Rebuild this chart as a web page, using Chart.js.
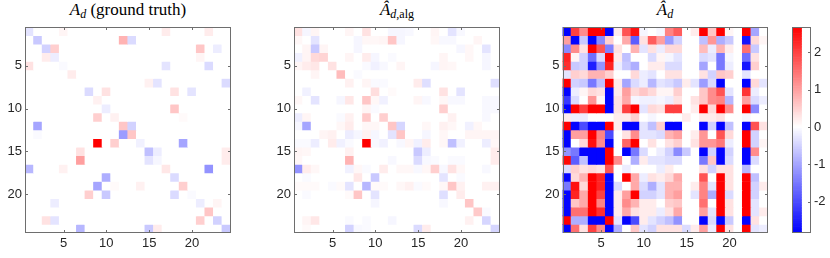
<!DOCTYPE html>
<html><head><meta charset="utf-8">
<script src="https://cdn.jsdelivr.net/npm/chart.js@4.4.1/dist/chart.umd.min.js"></script>
<style>
body{margin:0;background:#fff;width:830px;height:258px;overflow:hidden;position:relative}
canvas{position:absolute;top:0}
.title{position:absolute;top:0px;font-family:"Liberation Serif","DejaVu Serif",serif;font-size:17px;color:#000;text-align:center;width:206px;line-height:20px;white-space:nowrap}
.title sub{font-size:12px;vertical-align:-3px;line-height:0}
</style></head><body>
<div class="title" style="left:25px"><i>A</i><sub><i>d</i></sub> (ground truth)</div>
<div class="title" style="left:294px"><i>Â</i><sub><i>d</i>,alg</sub></div>
<div class="title" style="left:562px"><i>Â</i><sub><i>d</i></sub></div>
<canvas id="c1" width="240" height="258" style="left:0px"></canvas>
<canvas id="c2" width="240" height="258" style="left:269px"></canvas>
<canvas id="c3" width="240" height="258" style="left:537px"></canvas>
<canvas id="cb" width="50" height="258" style="left:780px"></canvas>
<script>
const columns = [1,2,3,4,5,6,7,8,9,10,11,12,13,14,15,16,17,18,19,20,21,22,23,24];
const rows = [1,2,3,4,5,6,7,8,9,10,11,12,13,14,15,16,17,18,19,20,21,22,23,24];
const axisTicks = [5, 10, 15, 20];
const colorbarTicks = [-2, -1, 0, 1, 2];
const colorMin = -2.83, colorMax = 2.67;

// ground truth: [row, col, value]
const groundTruthCells = [
[1,1,-0.3],[1,5,0.1],[1,17,0.2],[1,22,0.2],
[2,2,-0.6],[2,12,0.8],[2,13,-0.4],
[3,3,-0.5],[3,4,0.5],[3,21,0.6],[3,23,-0.2],
[4,3,0.2],[4,4,-0.2],[4,21,0.1],
[5,1,0.3],[5,5,-0.05],[5,17,-0.3],[5,22,-0.4],
[6,6,0.2],
[7,15,0.15],[7,16,-0.3],[7,24,-0.4],
[8,8,-0.4],[8,10,0.3],[8,18,0.3],[8,20,-0.3],
[9,9,0.15],
[10,10,-0.2],[10,18,0.6],
[11,9,0.5],[11,11,0.15],[11,19,0.05],
[12,2,-1.0],[12,12,0.6],[12,13,-0.5],
[13,2,-0.05],[13,12,-1.1],[13,13,0.6],
[14,9,2.7],[14,11,0.5],[14,14,-0.15],[14,19,-1.0],
[15,7,0.3],[15,15,-0.7],[15,16,-0.2],[15,24,0.2],
[16,7,1.0],[16,15,-0.3],[16,16,-0.1],[16,24,0.2],
[17,1,-0.8],[17,5,0.15],[17,17,0.25],[17,22,-1.2],
[18,10,-0.9],[18,18,-0.4],
[19,9,-1.0],[19,11,0.05],[19,14,0.15],[19,19,0.5],
[20,8,0.5],[20,10,-0.6],[20,18,-0.4],[20,20,-0.05],
[21,4,-0.2],[21,21,-0.2],[21,23,0.1],
[22,22,0.6],
[23,3,0.3],[23,4,-0.3],[23,21,0.5],[23,23,-0.5],
[24,7,-0.8],[24,15,-0.6],[24,16,0.2],[24,24,-0.6]
];

// algorithm estimate: [row, col, value]
const algCells = [
[1,1,0.3],[1,2,-0.1],[1,3,0.1],[1,7,0.1],[1,9,0.3],[1,12,-0.1],[1,13,-0.1],[1,14,-0.08],[1,17,0.1],[1,19,-0.3],[1,20,-0.08],
[2,1,0.08],[2,3,-0.3],[2,8,-0.1],[2,9,0.08],[2,10,0.08],[2,11,0.1],[2,12,0.6],[2,13,-0.1],[2,17,0.08],[2,18,-0.08],[2,19,-0.08],[2,22,0.1],
[3,2,0.1],[3,3,-0.6],[3,4,0.1],[3,8,-0.1],[3,20,-0.1],[3,21,0.08],[3,23,-0.3],
[4,1,-0.15],[4,2,0.1],[4,3,0.4],[4,4,0.45],[4,7,0.1],[4,9,0.2],[4,10,-0.1],[4,12,-0.05],[4,18,0.1],[4,21,0.08],[4,23,-0.1],
[5,1,0.1],[5,2,0.2],[5,3,0.25],[5,5,0.3],[5,9,-0.05],[5,10,-0.15],[5,11,-0.08],[5,13,0.1],[5,17,-0.1],[5,18,0.1],[5,19,0.08],[5,23,-0.1],
[6,3,0.1],[6,6,0.7],[6,8,-0.05],
[7,7,0.15],[7,9,0.1],[7,10,-0.05],[7,11,-0.05],[7,15,0.2],[7,16,-0.35],[7,24,-0.35],
[8,2,-0.15],[8,10,0.35],[8,12,0.05],[8,18,0.3],[8,20,-0.3],
[9,1,0.08],[9,3,-0.3],[9,6,-0.1],[9,7,0.25],[9,9,0.6],[9,10,0.08],[9,11,-0.15],[9,15,0.1],[9,16,-0.08],[9,18,0.08],[9,19,-0.08],[9,20,-0.08],[9,23,-0.08],[9,24,-0.08],
[10,9,0.1],[10,10,-0.05],[10,18,0.5],[10,23,-0.08],[10,24,-0.08],
[11,1,-0.2],[11,2,0.1],[11,6,-0.05],[11,7,0.15],[11,9,0.55],[11,11,0.5],[11,19,0.15],[11,23,-0.08],
[12,1,-0.1],[12,2,-1.0],[12,6,0.08],[12,7,0.2],[12,9,0.08],[12,10,0.08],[12,12,0.6],[12,13,-0.45],[12,16,0.08],[12,18,0.15],[12,19,0.08],[12,21,-0.15],[12,22,0.08],
[13,4,0.1],[13,5,0.15],[13,7,-0.2],[13,8,-0.1],[13,9,0.15],[13,10,-0.1],[13,12,-0.3],[13,13,0.6],[13,16,-0.1],[13,18,0.08],[13,21,0.1],[13,22,0.1],[13,23,0.1],[13,24,0.1],
[14,1,-0.05],[14,2,-0.05],[14,3,-0.2],[14,5,0.2],[14,6,-0.15],[14,7,-0.05],[14,9,2.7],[14,10,-0.08],[14,11,-0.15],[14,13,-0.08],[14,14,0.1],[14,15,-0.15],[14,16,0.2],[14,18,0.08],[14,19,-0.7],[14,20,-0.15],[14,23,-0.2],[14,24,0.08],
[15,1,0.1],[15,2,0.08],[15,7,0.15],[15,15,-0.6],[15,16,-0.2],[15,24,0.2],
[16,1,0.08],[16,7,0.8],[16,12,-0.08],[16,15,-0.4],[16,16,-0.08],[16,17,-0.05],[16,19,-0.05],[16,20,-0.05],[16,24,0.2],
[17,1,-1.2],[17,2,0.2],[17,3,0.08],[17,7,-0.15],[17,8,0.08],[17,9,-0.05],[17,11,0.2],[17,13,0.08],[17,14,0.08],[17,15,-0.08],[17,16,0.08],[17,17,0.5],[17,18,-0.08],[17,19,0.3],[17,20,0.08],[17,23,-0.08],
[18,2,-0.05],[18,8,0.25],[18,10,-0.6],[18,18,-0.3],[18,20,-0.05],
[19,1,0.05],[19,2,0.05],[19,3,0.05],[19,5,-0.05],[19,6,0.05],[19,7,-0.3],[19,9,-0.8],[19,10,0.05],[19,11,0.05],[19,13,0.08],[19,14,0.15],[19,15,-0.05],[19,16,0.05],[19,18,0.08],[19,19,0.6],[19,20,0.15],[19,23,0.15],[19,24,0.15],
[20,2,-0.05],[20,7,0.05],[20,8,0.6],[20,10,-0.3],[20,18,-0.35],[20,20,0.2],
[21,10,-0.1],[21,18,-0.08],[21,21,0.6],
[22,22,0.55],[22,23,-0.05],
[23,2,0.1],[23,3,0.25],[23,7,-0.05],[23,9,-0.05],[23,12,-0.1],[23,21,0.15],[23,23,-0.45],
[24,2,0.05],[24,7,-0.5],[24,8,-0.08],[24,9,-0.05],[24,15,-0.4],[24,16,0.2],[24,24,-0.45]
];

// full estimate, row by row
const estimate = [
[-2.8,2.0,1.2,2.8,2.8,-2.8,0.2,1.8,2.5,-0.1,0,-0.1,1.3,1.7,0,0.2,2.8,0.6,2.8,0.1,0,2.8,-1.0,0],
[1.0,-2.8,-0.6,-2.8,-1.3,0.5,0,0.9,-1.8,0.3,1.7,1.0,-1.1,-0.5,0,0,-0.7,1.1,-0.9,-0.6,0,-2.6,0.4,0.1],
[-1.3,1.2,0.3,2.8,1.8,-1.4,0.3,0,0.8,-0.3,0.3,-0.2,0.4,0.4,0,0,0.7,-0.2,0.8,0.2,0,1.5,-0.6,0],
[2.3,0.1,-0.5,-1.6,-0.4,2.8,0.2,-0.7,0,0,-0.4,0.1,-0.1,-0.3,0,0,-0.4,-0.3,-1.5,-0.1,0,-1.6,0.3,0],
[2.2,-0.6,-0.5,-2.5,-1.2,2.3,-0.2,-0.6,-0.9,0,0.2,0.2,-0.4,-0.4,0,0,-1.0,0,-1.5,-0.2,0,-2.6,0.5,0],
[-0.3,0.5,0.4,0.8,0.8,0.5,0,0,0.4,-0.2,-0.3,0,0.3,0.3,0,0,0.3,-0.5,0.6,0.5,0,-0.3,0,0],
[2.8,-0.5,-0.6,-1.5,-0.7,2.8,0.2,-1.0,-0.4,-0.2,-0.8,-0.3,-0.4,-0.6,0.2,-0.3,-1.1,-0.4,-2.8,0,0,-2.8,0.4,-0.3],
[-2.8,-0.2,0.1,0.4,0.3,-2.8,0.2,1.0,0.4,0.6,0.4,0.1,0.1,0.5,0,0,0.6,1.2,1.8,-0.3,0,2.1,-0.2,0],
[-2.2,-0.4,0,1.1,0.1,-2.8,0.3,0.9,-0.1,-0.15,-0.15,-0.1,-0.2,0.3,0,0.3,0.6,1.2,1.3,-0.8,0,1.0,-0.4,-0.2],
[-2.8,2.8,2.0,2.8,2.8,-2.8,0.3,2.0,2.8,-0.3,0.4,0.3,2.0,2.0,0,0.2,2.8,0.4,2.8,1.2,0,2.8,-1.3,0],
[0.2,-0.2,-0.2,0,0,0,0.2,0.2,0.5,0,-0.1,0,0,0,0.2,0,0.2,0.2,0.3,0,0,-0.1,0,0],
[2.8,-2.8,-2.0,-2.8,-2.8,2.8,0.2,-2.8,-2.8,-0.3,-0.7,0.5,-2.8,-2.8,0,0,-2.8,-0.5,-2.8,-0.7,0,-2.8,1.8,0.3],
[-2.8,1.0,1.0,2.8,1.3,-2.0,0,0.3,1.2,-0.3,-0.3,-0.4,0.8,1.0,0,0.2,1.1,0,1.8,0.4,0,2.8,-0.5,0],
[-2.8,0,0.4,2.5,1.2,-2.8,0,1.6,2.8,0,0.3,0,0.3,0.5,0,0.3,1.1,1.1,1.4,-0.2,0,2.8,-0.5,0.1],
[-1.2,-1.5,-2.8,-2.8,-2.8,2.8,0,-2.8,-1.5,-0.4,0,-0.2,-0.5,-1.3,-0.6,0,-2.8,-0.5,-2.8,-0.5,0,-2.8,1.2,0],
[2.6,-1.8,-0.7,-2.8,-2.8,2.8,1.2,0,-0.9,0.2,-0.3,-0.3,-0.4,-0.4,0,0,-1.5,0.6,-2.8,-0.4,0,-2.8,-0.4,0],
[-0.4,0.5,0.3,0.4,0.3,1.8,0,-0.2,0,0,0,-0.2,0.2,0,0,0,0.3,-0.5,0.3,0.3,0,-0.8,0,0],
[-2.8,0.4,0.8,2.8,2.3,-2.8,0,2.8,0.9,-0.2,0.3,0.2,0.4,0.9,0,0,1.8,0,2.8,0.3,0,2.8,-0.7,0],
[-1.5,2.5,0.4,2.8,2.3,-2.8,-0.4,0,0.9,-0.4,-0.9,-0.3,0.8,0.8,0,0.2,1.3,-0.3,2.8,0.3,0,2.8,-0.5,0.2],
[-2.8,2.3,0.9,2.8,2.0,-2.8,0.2,1.0,2.8,-0.5,-0.5,-0.3,0.8,1.0,0,-0.3,1.3,-0.9,2.8,-0.4,0,2.8,-0.5,0],
[-2.8,0.6,0.9,2.8,1.3,-2.8,0.2,1.2,0.8,0.2,0.2,0,0.5,0.6,0,0,1.5,0,2.8,0.3,0,2.8,-0.3,0],
[-2.8,1.5,1.5,2.8,2.2,-2.8,0.2,0.9,0.3,0.2,0.2,-0.2,0.3,0.9,0,0,1.0,-0.3,2.8,0.3,0,2.8,-0.3,0.2],
[2.8,-0.9,-0.9,-2.8,-2.8,2.8,-0.3,-2.8,-2.0,0.2,-0.3,-0.5,-0.7,-1.2,0,0,-2.8,-0.4,-2.8,-0.6,0,-2.8,0.3,0],
[-2.8,1.5,0.3,2.0,1.2,-2.8,-0.9,0,0.6,-0.3,-0.5,0.3,0.3,0.3,-0.4,0.2,1.0,-0.2,2.8,0.3,0,2.8,-0.3,-0.2]
];

function toMatrix(cells) {
  const m = rows.map(() => columns.map(() => 0));
  cells.forEach(([r, c, v]) => { m[r - 1][c - 1] = v; });
  return m;
}

function colorFor(v) {
  if (v >= 0) {
    const t = Math.min(v / colorMax, 1);
    const g = Math.round(255 * (1 - t));
    return `rgb(255,${g},${g})`;
  }
  const t = Math.min(v / colorMin, 1);
  const g = Math.round(255 * (1 - t));
  return `rgb(${g},${g},255)`;
}

Chart.defaults.font.family = '"Liberation Sans", Arial, Helvetica, sans-serif';
Chart.defaults.font.size = 13;
Chart.defaults.color = '#262626';

const FRAME = '#6e6e6e';
const TL = 2.5;

const framePlugin = {
  id: 'frame',
  afterDraw(chart, args, opts) {
    const { ctx, chartArea: a } = chart;
    ctx.save();
    ctx.strokeStyle = FRAME;
    ctx.lineWidth = 1;
    const L = Math.round(a.left) + 0.5, R = Math.round(a.right) - 0.5;
    const T = Math.round(a.top) + 0.5, B = Math.round(a.bottom) - 0.5;
    ctx.strokeRect(L, T, R - L, B - T);
    ctx.beginPath();
    const ys = chart.scales.y;
    ys.ticks.forEach((t, i) => {
      const p = Math.round(ys.getPixelForTick(i)) + 0.5;
      if (!opts.rightOnly) { ctx.moveTo(L, p); ctx.lineTo(L + TL, p); }
      ctx.moveTo(R, p); ctx.lineTo(R - TL, p);
    });
    const xs = chart.scales.x;
    if (xs.options.display !== false) {
      xs.ticks.forEach((t, i) => {
        const p = Math.round(xs.getPixelForTick(i)) + 0.5;
        ctx.moveTo(p, B); ctx.lineTo(p, B - TL);
        ctx.moveTo(p, T); ctx.lineTo(p, T + TL);
      });
    }
    ctx.stroke();
    ctx.restore();
  }
};

function heatmap(id, matrix, padLeft) {
  const datasets = matrix.map((row, r) => ({
    data: row.map(() => [r + 0.5, r + 1.5]),
    backgroundColor: row.map(colorFor),
    borderWidth: 0,
    grouped: false,
    barPercentage: 1,
    categoryPercentage: 1
  }));
  new Chart(document.getElementById(id), {
    type: 'bar',
    data: { labels: columns.map(String), datasets },
    options: {
      responsive: false, animation: false, devicePixelRatio: 1,
      layout: { padding: { left: padLeft, right: 240 - 25 - padLeft - 205.5, top: 27, bottom: 0 } },
      plugins: { legend: { display: false }, tooltip: { enabled: false }, frame: {} },
      scales: {
        x: {
          type: 'category', offset: true,
          grid: { display: false, drawTicks: false }, border: { display: false },
          ticks: { autoSkip: false, maxRotation: 0, padding: 2.5 },
          afterBuildTicks: s => { s.ticks = axisTicks.map(v => ({ value: columns.indexOf(v) })); },
          afterFit: s => { s.height = 25; }
        },
        y: {
          type: 'linear', min: 0.5, max: 24.5, reverse: true,
          grid: { display: false, drawTicks: false }, border: { display: false },
          ticks: { padding: 3 },
          afterBuildTicks: s => { s.ticks = axisTicks.map(v => ({ value: v })); },
          afterFit: s => { s.width = 25; }
        }
      }
    },
    plugins: [framePlugin]
  });
}

heatmap('c1', toMatrix(groundTruthCells), 0);
heatmap('c2', toMatrix(algCells), 0);
heatmap('c3', estimate, 0.5);

// colorbar
const steps = 128;
const cbSets = [];
for (let k = 0; k < steps; k++) {
  const lo = colorMin + (colorMax - colorMin) * k / steps;
  const hi = colorMin + (colorMax - colorMin) * (k + 1) / steps;
  cbSets.push({
    data: [[lo, hi]],
    backgroundColor: colorFor((lo + hi) / 2),
    borderWidth: 0, grouped: false, barPercentage: 1, categoryPercentage: 1
  });
}
new Chart(document.getElementById('cb'), {
  type: 'bar',
  data: { labels: [''], datasets: cbSets },
  options: {
    responsive: false, animation: false, devicePixelRatio: 1,
    layout: { padding: { left: 12, right: 0, top: 27, bottom: 25 } },
    plugins: { legend: { display: false }, tooltip: { enabled: false }, frame: { rightOnly: true } },
    scales: {
      x: { display: false, offset: false },
      y: {
        type: 'linear', position: 'right', min: colorMin, max: colorMax,
        grid: { display: false, drawTicks: false }, border: { display: false },
        ticks: { padding: 3, callback: v => String(v) },
        afterBuildTicks: s => { s.ticks = colorbarTicks.map(v => ({ value: v })); },
        afterFit: s => { s.width = 19; }
      }
    }
  },
  plugins: [framePlugin]
});
</script>
</body></html>
